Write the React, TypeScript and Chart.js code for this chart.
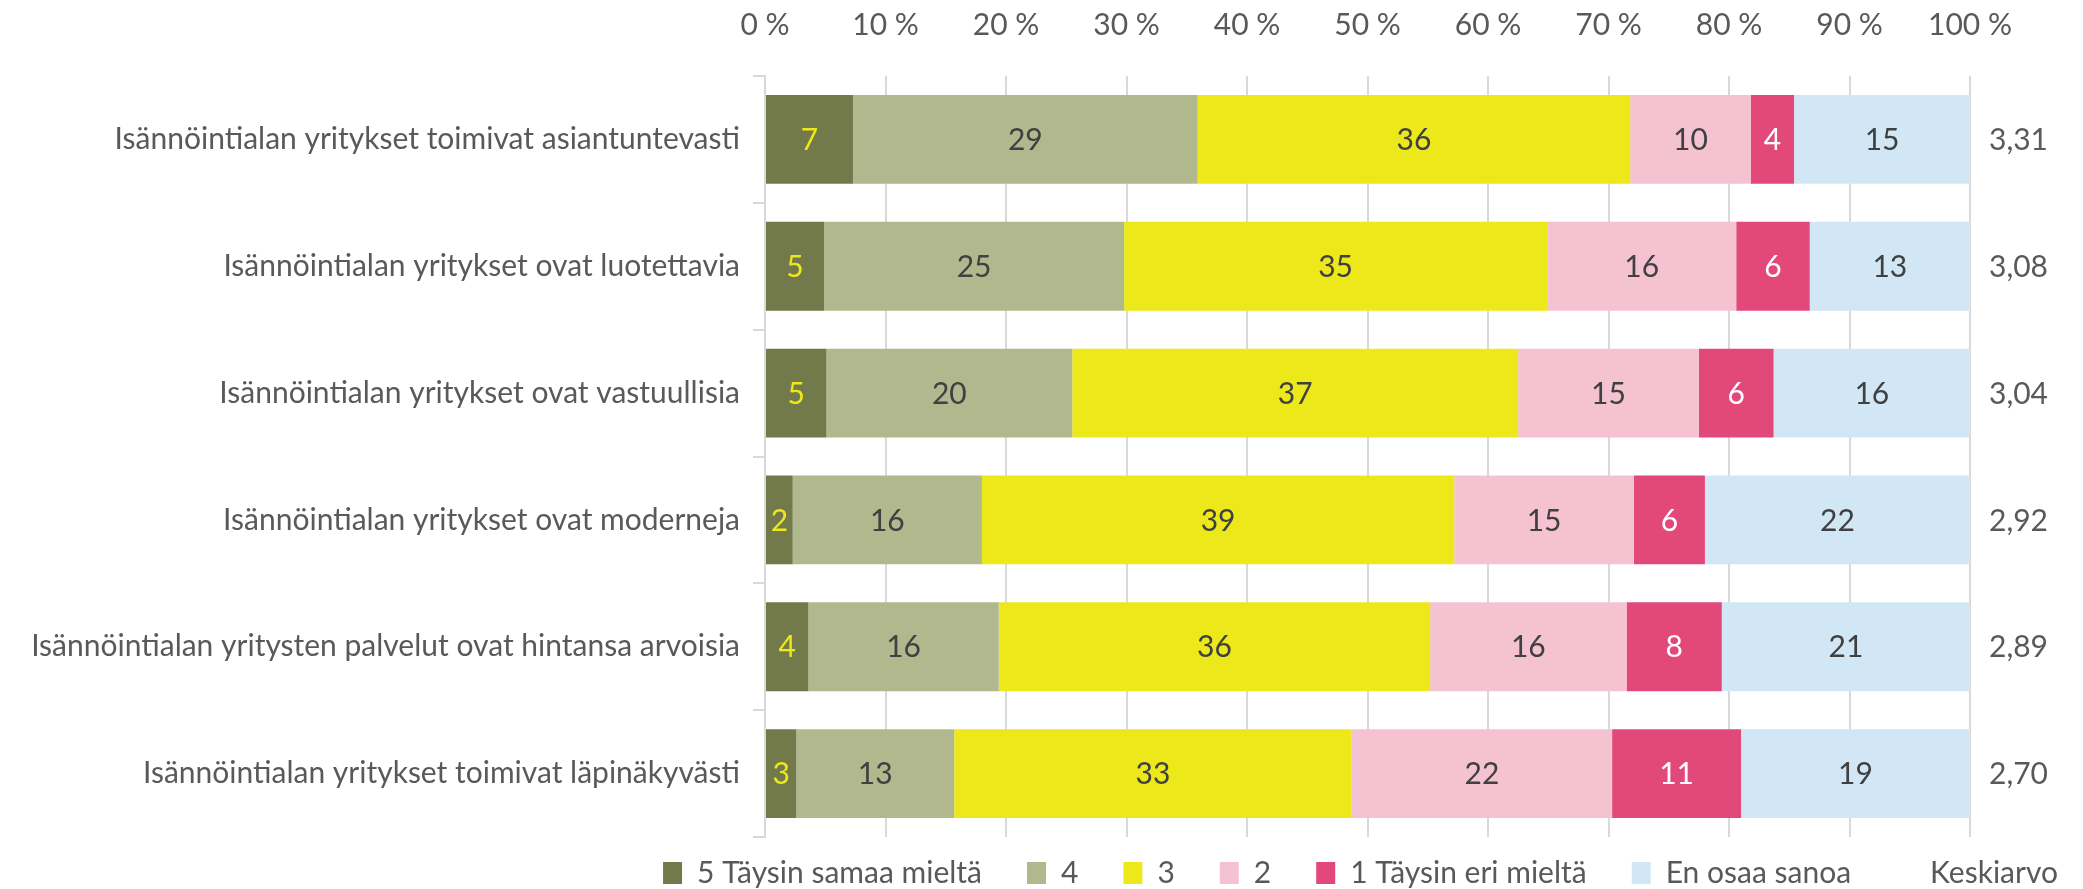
import React, { useEffect, useRef } from "react";
import { Chart, registerables } from "chart.js";

Chart.register(...registerables);

const categories = [
  "Isännöintialan yritykset toimivat asiantuntevasti",
  "Isännöintialan yritykset ovat luotettavia",
  "Isännöintialan yritykset ovat vastuullisia",
  "Isännöintialan yritykset ovat moderneja",
  "Isännöintialan yritysten palvelut ovat hintansa arvoisia",
  "Isännöintialan yritykset toimivat läpinäkyvästi",
];

const seriesNames = [
  "5 Täysin samaa mieltä",
  "4",
  "3",
  "2",
  "1 Täysin eri mieltä",
  "En osaa sanoa",
];

const s5 = [7.3, 4.9, 5.1, 2.3, 3.6, 2.6];
const s4 = [28.6, 24.9, 20.4, 15.7, 15.8, 13.1];
const s3 = [35.9, 35.1, 37.0, 39.2, 35.8, 33.0];
const s2 = [10.0, 15.7, 15.0, 14.9, 16.3, 21.6];
const s1 = [3.6, 6.1, 6.2, 5.9, 7.9, 10.7];
const sEos = [14.6, 13.3, 16.3, 22.0, 20.6, 19.0];

const means = [3.31, 3.08, 3.04, 2.92, 2.89, 2.7];
const meanLabel = "Keskiarvo";

const xTicks = [0, 10, 20, 30, 40, 50, 60, 70, 80, 90, 100];

const colors = ["#72794A", "#B1B88E", "#EDE81A", "#F5C2D1", "#E2487A", "#D1E7F5"];
const labelColors = ["#EDE81A", "#404040", "#404040", "#404040", "#FFFFFF", "#404040"];

const FONT = "Lato, 'Liberation Sans', sans-serif";
const TEXT = "#595959";
const FS = 30;

const valueLabels = {
  id: "valueLabels",
  afterDatasetsDraw(chart: any) {
    const ctx = chart.ctx;
    ctx.save();
    ctx.font = `${FS}px ${FONT}`;
    ctx.textAlign = "center";
    ctx.textBaseline = "middle";
    chart.data.datasets.forEach((ds: any, di: number) => {
      const meta = chart.getDatasetMeta(di);
      meta.data.forEach((bar: any, i: number) => {
        const v = ds.data[i];
        ctx.fillStyle = labelColors[di];
        ctx.fillText(String(Math.round(v)), (bar.x + bar.base) / 2, bar.y + 1);
      });
    });
    const yScale = chart.scales.y;
    ctx.fillStyle = TEXT;
    ctx.textAlign = "left";
    means.forEach((m, i) => {
      ctx.fillText(m.toFixed(2).replace(".", ","), chart.chartArea.right + 19, yScale.getPixelForValue(i) + 1);
    });
    ctx.restore();
  },
};

const legendShift = {
  id: "legendShift",
  afterLayout(chart: any) {
    const lg = chart.legend;
    if (lg) {
      lg.top -= 24;
      lg.left += 133;
      lg.right += 133;
    }
  },
};

export default function App() {
  const ref = useRef<HTMLCanvasElement>(null);
  useEffect(() => {
    if (!ref.current) return;
    const data = [s5, s4, s3, s2, s1, sEos];
    const chart = new Chart(ref.current, {
      type: "bar",
      data: {
        labels: categories,
        datasets: data.map((d, i) => ({
          label: seriesNames[i],
          data: d,
          backgroundColor: colors[i],
          borderWidth: 0,
          barPercentage: 0.7,
          categoryPercentage: 1,
        })),
      },
      options: {
        indexAxis: "y",
        responsive: false,
        animation: false,
        devicePixelRatio: 1,
        layout: { padding: { top: 8, right: 113, left: 0, bottom: 0 } },
        scales: {
          x: {
            position: "top",
            stacked: true,
            min: 0,
            max: 100,
            afterBuildTicks(scale: any) {
              scale.ticks = xTicks.map((v) => ({ value: v }));
            },
            afterFit(scale: any) {
              scale.height = 68;
            },
            ticks: {
              callback: (v: any) => `${v} %`,
              font: { family: FONT, size: FS },
              color: TEXT,
              padding: 33,
              maxRotation: 0,
            },
            grid: { color: "#D9D9D9", lineWidth: 2, drawTicks: false },
            border: { display: false },
          },
          y: {
            stacked: true,
            afterFit(scale: any) {
              scale.width = 765;
            },
            ticks: {
              font: { family: FONT, size: FS },
              color: TEXT,
              padding: 13,
            },
            grid: {
              display: true,
              drawOnChartArea: false,
              offset: true,
              tickLength: 12,
              color: "#D9D9D9",
              lineWidth: 2,
            },
            border: { display: true, color: "#D9D9D9", width: 2 },
          },
        },
        plugins: {
          tooltip: { enabled: false },
          legend: {
            position: "bottom",
            align: "end",
            maxHeight: 52,
            labels: {
              font: { family: FONT, size: FS },
              color: TEXT,
              boxWidth: 19,
              boxHeight: 22,
              padding: 45,
              generateLabels(c: any) {
                const items = Chart.defaults.plugins.legend.labels.generateLabels(c);
                items.forEach((it: any) => {
                  it.lineWidth = 0;
                  it.strokeStyle = "rgba(0,0,0,0)";
                });
                items.push({
                  text: meanLabel,
                  fillStyle: "rgba(0,0,0,0)",
                  strokeStyle: "rgba(0,0,0,0)",
                  lineWidth: 0,
                  hidden: false,
                  datasetIndex: -1,
                  fontColor: TEXT,
                } as any);
                return items;
              },
            },
          },
        },
      },
      plugins: [valueLabels, legendShift],
    });
    return () => chart.destroy();
  }, []);
  return (
    <div style={{ position: "absolute", left: 0, top: 0, width: 2083, height: 889, background: "#fff" }}>
      <canvas ref={ref} width={2083} height={889} style={{ width: 2083, height: 889, display: "block" }} />
    </div>
  );
}
